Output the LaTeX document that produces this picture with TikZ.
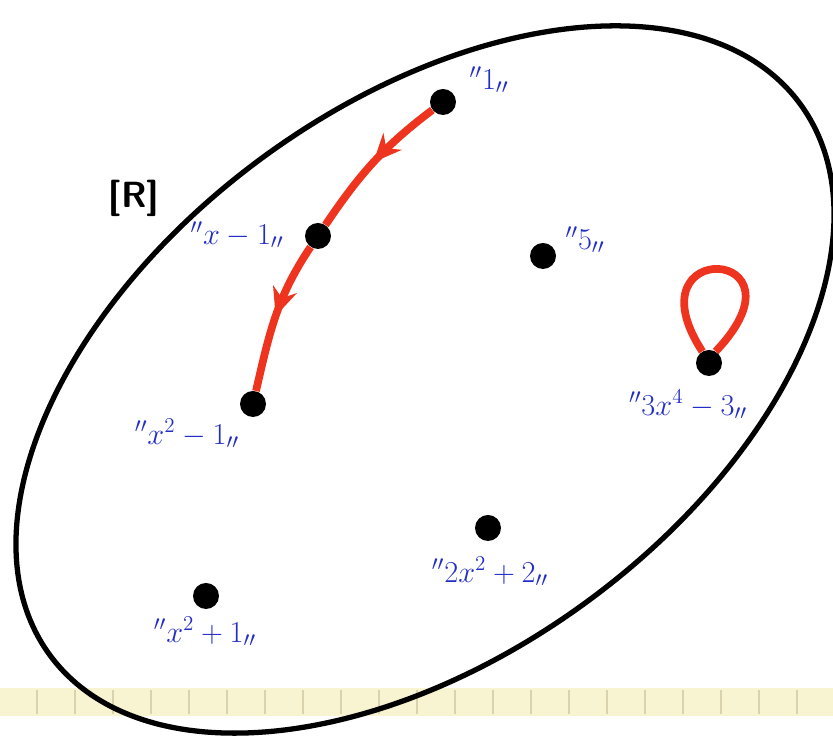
\documentclass[tikz,border=0pt]{standalone}
\usetikzlibrary{arrows.meta,decorations.markings}
\definecolor{penred}{RGB}{238,52,30}
\definecolor{penblue}{RGB}{35,45,200}
\definecolor{stripyellow}{RGB}{248,243,208}
\definecolor{striptick}{RGB}{218,210,172}
\newcommand{\quoted}[1]{$^{\prime\prime}#1_{\prime\prime}$}
\tikzset{
  elem/.style={circle, fill=black, inner sep=0pt, minimum size=0.52cm},
  lab/.style={text=penblue, font=\LARGE},
  relarrow/.style={penred, line width=4.4pt, postaction={decorate},
    decoration={markings, mark=at position 0.5 with {\arrow{Stealth[length=16pt,width=14pt]}}}},
}
\begin{document}
\begin{tikzpicture}[x=0.02cm, y=0.02cm]
    \useasboundingbox (0,0) rectangle (833,742);
    % strip at the lower edge of the scan
    \fill[stripyellow] (0,26) rectangle (833,54);
    \foreach \t in {37,75,...,833}
        \draw[striptick, line width=0.6pt] (\t,28) -- (\t,52);
    \draw[line width=3pt, rotate around={36.3:(425,362.5)}] (425,362.5) ellipse [x radius=465.5, y radius=275];
    \node[font=\huge\bfseries\sffamily] (ring) at (134,544) {[R]};
    \node[elem] (one) at (443,640) {};
    \node[elem] (xm1) at (318,506) {};
    \node[elem] (five) at (543,486) {};
    \node[elem] (x2m1) at (253,338) {};
    \node[elem] (quart) at (709,379) {};
    \node[elem] (twox2) at (488,214) {};
    \node[elem] (x2p1) at (206,146) {};
    \node[lab] (one-l) at (489,662) {\quoted{1}};
    \node[lab] (xm1-l) at (237,507) {\quoted{x-1}};
    \node[lab] (five-l) at (585,502) {\quoted{5}};
    \node[lab] (x2m1-l) at (187,308) {\quoted{x^2-1}};
    \node[lab] (quart-l) at (688,337) {\quoted{3x^4-3}};
    \node[lab] (twox2-l) at (490,170) {\quoted{2x^2+2}};
    \node[lab] (x2p1-l) at (205,110) {\quoted{x^2+1}};
    \draw[relarrow] (one) to[out=217, in=56] (xm1);
    \draw[relarrow] (xm1) to[out=236, in=77] (x2m1);
    \draw[penred, line width=4.4pt] (quart.120) .. controls +(-75,115) and +(100,105) .. (quart.60);
\end{tikzpicture}
\end{document}
